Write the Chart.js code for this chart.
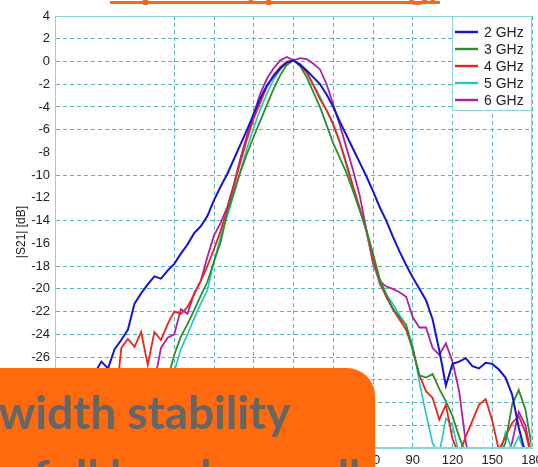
<!DOCTYPE html>
<html>
<head>
<meta charset="utf-8">
<script src="https://cdn.jsdelivr.net/npm/chart.js@4.4.1/dist/chart.umd.min.js"></script>
<style>
  html, body { margin: 0; padding: 0; background: #fff; }
  #wrap { position: relative; width: 538px; height: 467px; overflow: hidden; }
  #c { position: absolute; left: 0; top: 0; }
  #title { position: absolute; left: 0; top: -33px; width: 550px; text-align: center; white-space: nowrap; }
  #title span { display: inline-block; font: bold 34px 'Open Sans', sans-serif; line-height: 34px;
                color: #ef6c1e; border-bottom: 3px solid #ef6c1e; }
  #note { position: absolute; left: -60px; top: 368px; width: 435px; height: 160px;
          border-radius: 28px; background: #ff6a0e; overflow: hidden; }
  .nl { position: absolute; white-space: nowrap; font: bold 46px Lato, 'Open Sans', sans-serif;
        line-height: 46px; color: #666; }
  #l1 { right: 85px; top: 21px; }
  #l2 { right: 15px; top: 85px; }
</style>
</head>
<body>
<div id="wrap">
  <canvas id="c" width="538" height="467"></canvas>
  <div id="title"><span>E-plane (φ = 45 deg)</span></div>
  <div id="note">
    <div class="nl" id="l1">Beamwidth stability</div>
    <div class="nl" id="l2">over the full band as well</div>
  </div>
</div>
<script>
// Measurement angles (deg)
const angles = [
  -180, -175, -170, -165, -160, -155, -150, -145, -140, -135, -130, -125, -120,
  -115, -110, -105, -100, -95, -90, -85, -80, -75, -70, -65, -60,
  -55, -50, -45, -40, -35, -30, -25, -20, -15, -10, -5, 0,
  5, 10, 15, 20, 25, 30, 35, 40, 45, 50, 55, 60,
  65, 70, 75, 80, 85, 90, 95, 100, 105, 110, 115, 120,
  125, 130, 135, 140, 145, 150, 155, 160, 165, 170, 175, 180
];

// |S21| in dB, one array per frequency
const s21_2GHz = [
  -31.0, -30.4, -30.0, -29.3, -28.8, -28.1, -27.4, -26.4, -27.0, -25.3, -24.5, -23.6, -21.3,
  -20.4, -19.6, -18.9, -19.1, -18.4, -17.8, -16.9, -16.1, -15.1, -14.5, -13.6, -12.2,
  -11.0, -9.9, -8.6, -7.3, -6.0, -4.6, -3.2, -2.1, -1.3, -0.6, -0.1, 0.1,
  -0.3, -0.8, -1.4, -2.0, -2.9, -4.0, -5.3, -6.5, -7.7, -8.9, -10.1, -11.4,
  -12.8, -14.0, -15.4, -16.7, -17.9, -19.0, -20.0, -21.0, -22.7, -25.4, -28.5, -26.6,
  -26.4, -26.1, -26.8, -27.0, -26.5, -26.6, -27.1, -27.8, -29.3, -32.2, -34.5, -36.0
];
const s21_3GHz = [
  -35.0, -34.0, -33.5, -34.5, -33.0, -32.5, -33.5, -32.0, -33.0, -31.5, -32.0, -31.0, -32.5,
  -31.0, -31.5, -30.5, -29.5, -28.0, -25.8, -24.2, -23.1, -21.9, -20.6, -19.4, -17.6,
  -15.9, -13.3, -11.5, -9.7, -8.1, -6.6, -5.2, -3.8, -2.4, -1.2, -0.3, 0.1,
  -0.4, -1.4, -2.7, -4.0, -5.6, -7.2, -8.5, -9.8, -11.4, -13.1, -14.8, -16.9,
  -19.1, -20.5, -21.7, -22.5, -23.2, -25.4, -27.6, -27.8, -27.5, -28.8, -29.9, -31.2,
  -33.0, -34.6, -35.5, -36.0, -35.5, -36.0, -35.0, -33.5, -30.2, -28.9, -30.6, -34.0
];
const s21_4GHz = [
  -33.0, -32.0, -31.0, -32.5, -31.0, -30.2, -31.0, -30.0, -29.6, -31.0, -25.2, -24.4, -25.1,
  -23.8, -26.7, -23.8, -24.5, -23.1, -22.0, -22.2, -21.6, -20.5, -19.3, -18.0, -16.5,
  -14.9, -13.0, -11.0, -8.8, -6.8, -5.0, -3.6, -2.2, -1.2, -0.5, 0.0, 0.1,
  -0.3, -1.0, -2.1, -3.3, -4.3, -5.5, -7.1, -9.0, -11.0, -12.9, -14.9, -17.4,
  -19.4, -20.7, -21.8, -22.7, -23.6, -25.3, -27.6, -29.0, -29.6, -31.5, -30.2, -33.2,
  -34.6, -33.0, -31.6, -30.2, -29.7, -31.6, -34.2, -33.0, -31.8, -31.2, -32.6, -35.0
];
const s21_5GHz = [
  -35.5, -34.5, -35.0, -34.0, -35.0, -34.5, -33.5, -34.0, -33.0, -32.5, -33.0, -32.0, -31.5,
  -32.0, -31.0, -30.5, -30.0, -29.0, -27.3, -25.3, -24.0, -22.6, -21.3, -20.1, -17.6,
  -15.4, -13.6, -11.7, -9.6, -7.6, -5.8, -4.2, -2.8, -1.6, -0.7, -0.1, 0.1,
  -0.2, -0.9, -2.0, -3.1, -4.3, -5.6, -7.2, -9.2, -11.2, -13.0, -15.0, -17.5,
  -19.6, -20.5, -21.3, -22.3, -23.2, -25.0, -28.2, -31.0, -33.6, -34.5, -31.4, -32.0,
  -34.6, -36.0, -36.0, -36.0, -36.0, -35.5, -35.0, -32.6, -34.2, -33.0, -34.6, -36.0
];
const s21_6GHz = [
  -35.0, -34.0, -35.0, -33.5, -34.5, -33.0, -34.0, -32.5, -33.0, -32.0, -32.5, -31.0, -31.5,
  -30.5, -29.5, -28.2, -25.2, -24.3, -24.0, -21.8, -22.2, -20.4, -19.3, -17.2, -15.3,
  -14.2, -12.8, -10.8, -8.5, -6.5, -4.6, -2.8, -1.5, -0.6, 0.1, 0.4, 0.1,
  0.3, 0.2, -0.2, -0.7, -2.0, -3.8, -5.6, -7.6, -9.6, -11.8, -14.8, -17.8,
  -19.3, -19.8, -20.0, -20.3, -20.7, -22.5, -23.4, -23.4, -25.2, -25.8, -24.8, -26.4,
  -29.0, -33.5, -36.0, -36.0, -36.0, -36.0, -36.0, -35.0, -33.5, -30.8, -32.0, -35.0
];

const seriesLabels = ['2 GHz', '3 GHz', '4 GHz', '5 GHz', '6 GHz'];
const seriesValues = [s21_2GHz, s21_3GHz, s21_4GHz, s21_5GHz, s21_6GHz];

// Axis ticks
const xTickValues = [-180, -150, -120, -90, -60, -30, 0, 30, 60, 90, 120, 150, 180];
const yTickValues = [4, 2, 0, -2, -4, -6, -8, -10, -12, -14, -16, -18, -20, -22, -24, -26, -28, -30, -32, -34];

// Styling
const seriesColors = ['#1414d2', '#2e8b2e', '#e8261e', '#22c4c4', '#aa22aa'];
const seriesWidths = [2, 1.8, 1.8, 1.6, 1.8];
const gridColor = '#5cb6bb';
const frameColor = '#8ad4da';
const noGridX = [-150, -120];
const noGridY = [-8, -12, -16];
const tickFont = { family: "'Liberation Sans', Arial, sans-serif", size: 13 };

// Box around the plot area plus the legend in its upper-right corner
const framePlugin = {
  id: 'frame',
  afterDatasetsDraw(chart) {
    const { ctx, chartArea: a } = chart;
    ctx.save();
    ctx.strokeStyle = frameColor;
    ctx.lineWidth = 1;
    ctx.strokeRect(a.left + 0.5, a.top + 0.5, a.right - a.left - 1, a.bottom - a.top - 1);

    const lw = 80, lh = 94;
    const lx = a.right - lw, ly = a.top;
    ctx.fillStyle = '#fff';
    ctx.fillRect(lx, ly, lw, lh);
    ctx.strokeRect(lx + 0.5, ly + 0.5, lw - 1, lh);
    ctx.font = "14px 'Liberation Sans', Arial, sans-serif";
    ctx.textBaseline = 'middle';
    ctx.textAlign = 'left';
    chart.data.datasets.forEach((ds, i) => {
      const y = ly + 16 + i * 17;
      ctx.strokeStyle = ds.borderColor;
      ctx.lineWidth = 2.4;
      ctx.beginPath();
      ctx.moveTo(lx + 3, y);
      ctx.lineTo(lx + 26, y);
      ctx.stroke();
      ctx.fillStyle = '#222';
      ctx.fillText(ds.label, lx + 32, y + 1);
    });
    ctx.restore();
  }
};

new Chart(document.getElementById('c'), {
  type: 'line',
  data: {
    datasets: seriesLabels.map((label, i) => ({
      label,
      data: angles.map((a, k) => ({ x: a, y: seriesValues[i][k] })),
      borderColor: seriesColors[i],
      backgroundColor: seriesColors[i],
      borderWidth: seriesWidths[i],
      pointRadius: 0,
      tension: 0,
      fill: false
    }))
  },
  options: {
    responsive: false,
    animation: false,
    events: [],
    layout: { padding: { top: 16, right: 6, left: 0, bottom: 0 } },
    plugins: { legend: { display: false }, tooltip: { enabled: false } },
    scales: {
      x: {
        type: 'linear',
        min: -180, max: 180,
        afterBuildTicks(s) { s.ticks = xTickValues.map(v => ({ value: v })); },
        afterFit(s) { s.height = 19; s.paddingLeft = 0; s.paddingRight = 0; },
        ticks: { font: tickFont, color: '#222', padding: 5, maxRotation: 0, autoSkip: false },
        grid: {
          drawTicks: false,
          color: c => (c.tick && noGridX.includes(c.tick.value)) ? 'rgba(0,0,0,0)' : gridColor,
          lineWidth: 1
        },
        border: { color: frameColor, dash: [4, 3] }
      },
      y: {
        type: 'linear',
        min: -34, max: 4,
        afterBuildTicks(s) { s.ticks = yTickValues.map(v => ({ value: v })); },
        afterFit(s) { s.width = 55; },
        ticks: { font: tickFont, color: '#222', padding: 5, autoSkip: false },
        grid: {
          drawTicks: false,
          color: c => (c.tick && noGridY.includes(c.tick.value)) ? 'rgba(0,0,0,0)' : gridColor,
          lineWidth: 1
        },
        border: { color: frameColor, dash: [4, 3] },
        title: {
          display: true,
          text: '|S21| [dB]',
          font: { family: "'Liberation Sans', Arial, sans-serif", size: 12 },
          color: '#222',
          padding: { top: 14, bottom: 0 }
        }
      }
    }
  },
  plugins: [framePlugin]
});
</script>
</body>
</html>
